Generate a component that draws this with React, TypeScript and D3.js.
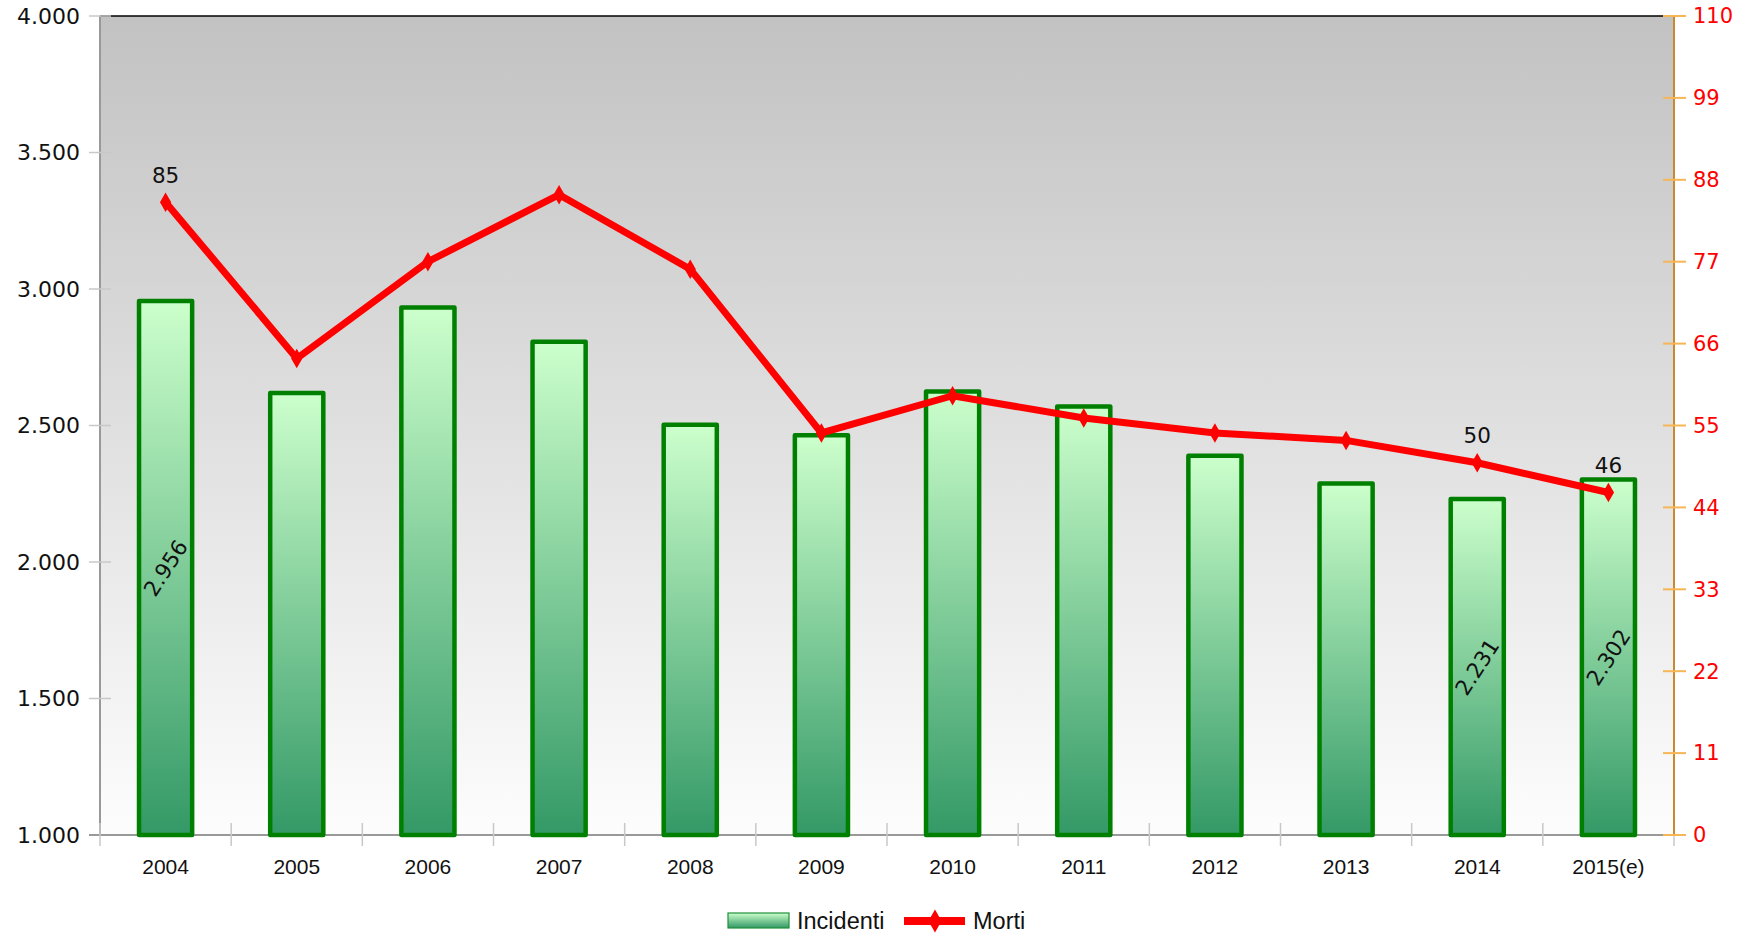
import React from 'react';
import * as d3 from 'd3';

// chart data
const years = ['2004', '2005', '2006', '2007', '2008', '2009', '2010', '2011', '2012', '2013', '2014', '2015(e)'];
const incidenti = [2956, 2619, 2932, 2807, 2503, 2464, 2625, 2570, 2389, 2288, 2231, 2302];
const morti = [85, 64, 77, 86, 76, 54, 59, 56, 54, 53, 50, 46];
const leftTicks = [1000, 1500, 2000, 2500, 3000, 3500, 4000];
const rightTicks = [0, 11, 22, 33, 44, 55, 66, 77, 88, 99, 110];
const barLabelYears = ['2004', '2014', '2015(e)'];
const lineLabelYears = ['2004', '2014', '2015(e)'];

const W = 1749;
const H = 934;
const margin = { top: 16, right: 75, bottom: 99, left: 100 };

const itFormat = d3.formatLocale({ decimal: ',', thousands: '.', grouping: [3], currency: ['€', ''] }).format(',d');

const App = () => {
  const left = margin.left;
  const right = W - margin.right;
  const top = margin.top;
  const bottom = H - margin.bottom;

  const x = d3.scaleBand<string>().domain(years).range([left, right]).padding(0);
  const yL = d3.scaleLinear().domain([1000, 4000]).range([bottom, top]);
  const yR = d3.scaleLinear().domain([0, 110]).range([bottom, top]);

  const bw = x.bandwidth() * 0.405;
  const cx = (yr: string) => (x(yr) || 0) + x.bandwidth() / 2;

  const line = d3.line<number>()
    .x((_, i) => cx(years[i]))
    .y(d => yR(d));

  const diamond = d3.symbol().type(d3.symbolDiamond).size(110)();
  const diamondLegend = d3.symbol().type(d3.symbolDiamond).size(150)();

  const sans = '"DejaVu Sans", Verdana, sans-serif';
  const arial = '"Liberation Sans", Arial, sans-serif';

  return (
    <div style={{ position: 'absolute', left: 0, top: 0 }}>
      <svg width={W} height={H} style={{ display: 'block', background: '#fff' }}>
        <defs>
          <linearGradient id="bg" x1="0" y1="0" x2="0" y2="1">
            <stop offset="0" stopColor="#c2c2c2" />
            <stop offset="1" stopColor="#fdfdfd" />
          </linearGradient>
          <linearGradient id="barFill" x1="0" y1="0" x2="0" y2="1">
            <stop offset="0" stopColor="#ccffcc" />
            <stop offset="1" stopColor="#339966" />
          </linearGradient>
        </defs>

        {/* plot background */}
        <rect x={left} y={top} width={right - left} height={bottom - top} fill="url(#bg)" />
        <line x1={left} x2={right} y1={top} y2={top} stroke="#000" strokeWidth={1.5} />

        {/* left axis */}
        <line x1={left} x2={left} y1={top} y2={bottom} stroke="#999" strokeWidth={2} />
        {leftTicks.map(t => (
          <g key={'l' + t}>
            <line x1={left - 11} x2={left + 11} y1={yL(t)} y2={yL(t)} stroke="#c8c8c8" strokeWidth={1.5} />
            <text x={left - 20} y={yL(t)} dy="0.35em" textAnchor="end" fontFamily={sans} fontSize={22} fill="#111">
              {itFormat(t)}
            </text>
          </g>
        ))}

        {/* x axis */}
        <line x1={left - 11} x2={right} y1={bottom} y2={bottom} stroke="#999" strokeWidth={2} />
        {years.concat(['']).map((yr, i) => {
          const xx = left + i * x.bandwidth();
          return <line key={'xt' + i} x1={xx} x2={xx} y1={bottom - 12} y2={bottom + 11} stroke="#c8c8c8" strokeWidth={1.5} />;
        })}
        {years.map(yr => (
          <text key={'xl' + yr} x={cx(yr)} y={bottom + 39} textAnchor="middle" fontFamily={arial} fontSize={21} fill="#111">
            {yr}
          </text>
        ))}

        {/* bars */}
        {incidenti.map((v, i) => (
          <rect
            key={'b' + i}
            x={cx(years[i]) - bw / 2}
            y={yL(v)}
            width={bw}
            height={yL(1000) - yL(v)}
            fill="url(#barFill)"
            stroke="#008000"
            strokeWidth={4.5}
            strokeLinejoin="round"
          />
        ))}

        {/* bar value labels */}
        {incidenti.map((v, i) =>
          barLabelYears.includes(years[i]) ? (
            <text
              key={'bl' + i}
              transform={`translate(${cx(years[i])},${(yL(v) + yL(1000)) / 2}) rotate(-57)`}
              textAnchor="middle"
              dy="0.35em"
              fontFamily={sans}
              fontSize={21.5}
              fill="#111"
            >
              {itFormat(v)}
            </text>
          ) : null
        )}

        {/* right axis */}
        <line x1={right} x2={right} y1={top} y2={bottom} stroke="#c98a2e" strokeWidth={2} />
        {rightTicks.map(t => (
          <g key={'r' + t}>
            <line x1={right - 11} x2={right + 12} y1={yR(t)} y2={yR(t)} stroke="#f6b655" strokeWidth={2} />
            <text x={right + 19} y={yR(t)} dy="0.35em" textAnchor="start" fontFamily={sans} fontSize={21} fill="#ff0000">
              {t}
            </text>
          </g>
        ))}

        {/* morti line */}
        <path d={line(morti) || ''} fill="none" stroke="#ff0000" strokeWidth={7} strokeLinejoin="miter" />
        {morti.map((v, i) => (
          <path key={'m' + i} d={diamond || ''} transform={`translate(${cx(years[i])},${yR(v)})`} fill="#ff0000" />
        ))}
        {morti.map((v, i) =>
          lineLabelYears.includes(years[i]) ? (
            <text key={'ml' + i} x={cx(years[i])} y={yR(v) - 27} dy="0.35em" textAnchor="middle" fontFamily={sans} fontSize={21.5} fill="#111">
              {v}
            </text>
          ) : null
        )}

        {/* legend */}
        <g>
          <rect x={728} y={913} width={61} height={15} fill="url(#barFill)" stroke="#1f8f3a" strokeWidth={1.2} />
          <text x={797} y={929} fontFamily={arial} fontSize={23.5} fill="#111">Incidenti</text>
          <line x1={904} x2={965} y1={921} y2={921} stroke="#ff0000" strokeWidth={8} />
          <path d={diamondLegend || ''} transform="translate(935,921)" fill="#ff0000" />
          <text x={973} y={929} fontFamily={arial} fontSize={23.5} fill="#111">Morti</text>
        </g>
      </svg>
    </div>
  );
};

export default App;
